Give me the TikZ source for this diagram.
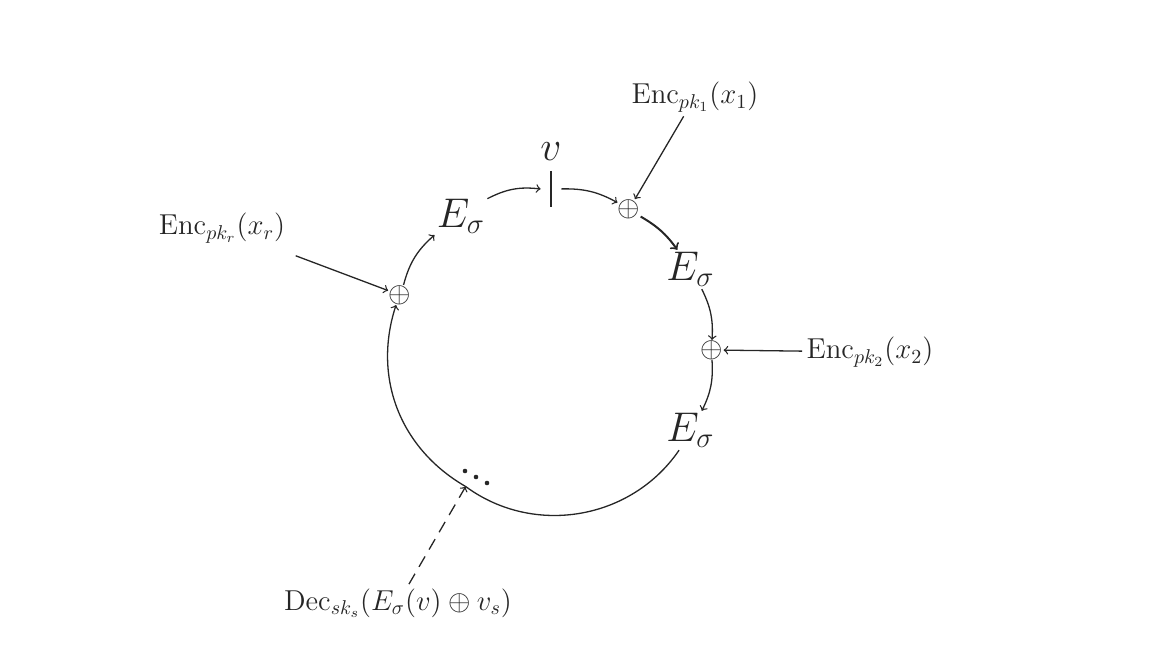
\documentclass[tikz,border=0pt]{standalone}
\usetikzlibrary{calc}
\begin{document}
\tikzset{
  lbl/.style={font=\fontsize{14.5}{17}\selectfont, inner sep=2pt, text=black!85},
  big/.style={font=\fontsize{20}{24}\selectfont, inner sep=1pt, text=black!85},
  xor/.style={font=\fontsize{15}{18}\selectfont, inner sep=0pt, text=black!85},
  flow/.style={->, line width=0.65pt, draw=black!85},
  feed/.style={->, line width=0.65pt, draw=black!85},
  dotmark/.style={fill=black!85},
  barnode/.style={minimum width=10pt, minimum height=18pt, inner sep=0pt,
    path picture={\draw[line width=0.65pt, black!85] (path picture bounding box.north) -- (path picture bounding box.south);}},
}
\begin{tikzpicture}[x=0.5pt,y=0.5pt]
\useasboundingbox (0,0) rectangle (1173,670);
\coordinate (c) at (551,320);
% ring elements
\node[barnode] (bar) at ($(c)+(90:161)$) {};
\node[big] (v) at (551,518) {$v$};
\node[big] (e0) at ($(c)+(124:161)$) {$E_\sigma$};
\node[xor] (o1) at ($(c)+(61:161)$) {$\oplus$};
\node[big] (e1) at ($(c)+(30:161)$) {$E_\sigma$};
\node[xor] (o2) at ($(c)+(0:161)$) {$\oplus$};
\node[big] (e2) at ($(c)+(-30:161)$) {$E_\sigma$};
\node[xor] (or) at ($(c)+(160:161)$) {$\oplus$};
\coordinate (d) at ($(c)+(-122:161)$);
% ellipsis dots
\fill[dotmark] (465,199) circle (2.3);
\fill[dotmark] (476,193) circle (2.3);
\fill[dotmark] (487,187) circle (2.3);
% outside labels
\node[lbl] (enc1) at (695,573) {$\mathrm{Enc}_{pk_1}(x_1)$};
\node[lbl] (enc2) at (870,318) {$\mathrm{Enc}_{pk_2}(x_2)$};
\node[lbl] (encr) at (222,442) {$\mathrm{Enc}_{pk_r}(x_r)$};
\node[lbl] (dec) at (398,67) {$\mathrm{Dec}_{sk_s}(E_\sigma(v)\oplus v_s)$};
% ring connectors
\draw[flow] (e0) to[bend left=17] (bar);
\draw[flow] (bar) to[bend left=15] (o1);
\draw[flow, line width=1pt] (o1) to[bend left=12] (e1);
\draw[flow] (e1) to[bend left=15] (o2);
\draw[flow] (o2) to[bend left=15] (e2);
\draw[flow] (e2) to[bend left=46] (d) to[bend left=39] (or);
\draw[flow] (or) to[bend left=17] (e0);
% feeds
\draw[feed] (enc1) -- (o1);
\draw[feed] (enc2) -- (o2);
\draw[feed, shorten <=12pt] (encr) -- (or);
\draw[feed, dash pattern=on 6pt off 4pt] (dec) -- (d);
\end{tikzpicture}
\end{document}
